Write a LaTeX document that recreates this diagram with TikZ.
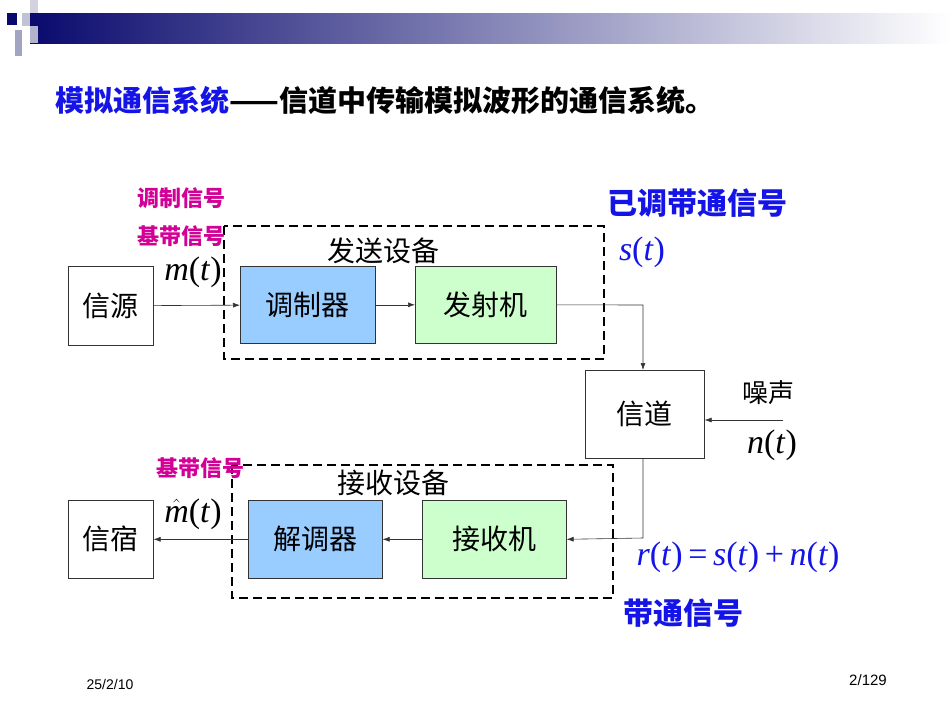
\documentclass[tikz,border=0pt]{standalone}
\usepackage{fontspec}
\usetikzlibrary{arrows.meta}
\setmainfont{Liberation Serif}
\newfontfamily\cjk{Noto Sans CJK SC}
\newfontfamily\sans{Liberation Sans}
\definecolor{navy}{RGB}{10,10,110}
\definecolor{mblue}{RGB}{153,204,255}
\definecolor{mgreen}{RGB}{204,255,204}
\definecolor{tblue}{RGB}{20,20,230}
\definecolor{tmag}{RGB}{210,0,150}
\begin{document}
\begin{tikzpicture}[x=1pt,y=-1pt,
  box/.style={draw=black!80,line width=0.6pt,minimum width=#1,anchor=north west,inner sep=0pt,font=\cjk\fontsize{28}{28}\selectfont},
  dbox/.style={draw=black,line width=1.6pt,dash pattern=on 9pt off 5pt},
  arr/.style={draw=black!80,line width=0.6pt,-{Latex[length=7pt,width=5pt]}},
  mag/.style={text=tmag,font=\cjk\bfseries\fontsize{22}{22}\selectfont},
  blu/.style={text=tblue,font=\cjk\bfseries\fontsize{30}{30}\selectfont},
  mth/.style={font=\itshape\fontsize{34}{34}\selectfont}]
\useasboundingbox (0,0) rectangle (950,713);
% header
\shade[left color=navy,right color=white] (30,13) rectangle (950,43);
\fill[navy] (7,13) rectangle (17,25);
\fill[blue!20!gray!40] (22,13) rectangle (30,26);
\fill[blue!15!gray!30] (30,0) rectangle (38,13);
\fill[blue!20!gray!50] (30,26) rectangle (38,43);
\fill[blue!20!gray!60] (15,30) rectangle (22,56);
% title
\node[anchor=west,font=\cjk\bfseries\fontsize{29}{29}\selectfont] (title) at (52,100) {\textcolor{tblue}{模拟通信系统}——信道中传输模拟波形的通信系统。};
% boxes
\node[box=85pt,minimum height=79pt] (src) at (68,266) {信源};
\node[box=135pt,minimum height=77pt,fill=mblue] (mod) at (240,266) {调制器};
\node[box=141pt,minimum height=77pt,fill=mgreen] (tx) at (415,266) {发射机};
\node[box=119pt,minimum height=88pt] (ch) at (585,370) {信道};
\node[box=85pt,minimum height=78pt] (snk) at (68,500) {信宿};
\node[box=134pt,minimum height=78pt,fill=mblue] (dem) at (248,500) {解调器};
\node[box=144pt,minimum height=78pt,fill=mgreen] (rx) at (422,500) {接收机};
\draw[dbox] (224,226) rectangle (604,359);
\draw[dbox] (232,465) rectangle (613,598);
% arrows
\draw[arr] (src) -- (mod);
\draw[arr] (mod) -- (tx);
\draw[arr] (tx.east) -- (643,305) -- (643,370);
\draw[arr] (643,458) -- (643,538) -- (rx.east);
\draw[arr] (rx) -- (dem);
\draw[arr] (dem) -- (snk);
\coordinate (nz) at (783,420);
\draw[arr] (nz) -- (ch.east |- nz);
% labels
\node[mag] (l1) at (181,198) {调制信号};
\node[mag] (l2) at (181,236) {基带信号};
\node[mth] (m) at (193,272) {m\textup{(}t\textup{)}};
\node[font=\cjk\fontsize{28}{28}\selectfont] (fs) at (383,251) {发送设备};
\node[blu] (ytd) at (697,203) {已调带通信号};
\node[mth,text=tblue] (s) at (642,252) {s\textup{(}t\textup{)}};
\node[font=\cjk\fontsize{26}{26}\selectfont] (zs) at (768,393) {噪声};
\node[mth] (n) at (772,445) {n\textup{(}t\textup{)}};
\node[mag] (l3) at (200,468) {基带信号};
\node[mth] (mh) at (193,514) {$\hat{\mbox{\itshape m}}$\textup{(}t\textup{)}};
\node[font=\cjk\fontsize{28}{28}\selectfont] (js) at (393,483) {接收设备};
\node[mth,text=tblue] (r) at (738,557) {r\textup{(}t\textup{)}\,\textup{=}\,s\textup{(}t\textup{)}\,\textup{+}\,n\textup{(}t\textup{)}};
\node[blu] (bt) at (683,613) {带通信号};
\node[font=\sans\fontsize{14}{14}\selectfont] (d) at (110,684) {25/2/10};
\node[font=\sans\fontsize{15}{15}\selectfont] (p) at (868,680) {2/129};
\end{tikzpicture}
\end{document}
